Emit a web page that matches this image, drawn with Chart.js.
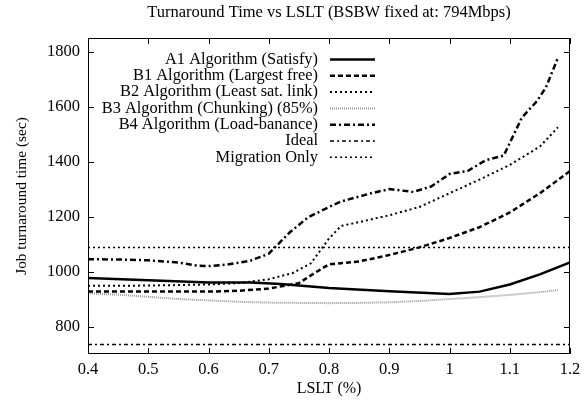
<!DOCTYPE html>
<html>
<head>
<meta charset="utf-8">
<script src="https://cdn.jsdelivr.net/npm/chart.js@4"></script>
<style>
html, body { margin: 0; padding: 0; background: #fff; }
#wrap { width: 587px; height: 408px; }
</style>
</head>
<body>
<div id="wrap"><canvas id="myChart"></canvas></div>
<script>
// tick values
const xTicks = [0.4, 0.5, 0.6, 0.7, 0.8, 0.9, 1, 1.1, 1.2];
const yTicks = [800, 1000, 1200, 1400, 1600, 1800];

// A1 Algorithm (Satisfy)
const a1X = [0.4, 0.5, 0.6, 0.67, 0.72, 0.8, 0.9, 1.0, 1.05, 1.1, 1.15, 1.2];
const a1Y = [977, 968, 960, 960, 955, 940, 928, 918, 927, 953, 990, 1033];

// B1 Algorithm (Largest free)
const b1X = [0.4, 0.5, 0.6, 0.65, 0.7, 0.75, 0.78, 0.8, 0.85, 0.9, 0.95, 1.0, 1.05, 1.1, 1.15, 1.2];
const b1Y = [927, 927, 927, 930, 938, 958, 1000, 1026, 1037, 1060, 1088, 1122, 1162, 1215, 1285, 1366];

// B2 Algorithm (Least sat. link)
const b2X = [0.4, 0.5, 0.6, 0.65, 0.7, 0.74, 0.77, 0.8, 0.82, 0.85, 0.9, 0.95, 1.0, 1.05, 1.1, 1.15, 1.18];
const b2Y = [948, 949, 953, 958, 972, 995, 1030, 1120, 1166, 1180, 1205, 1235, 1285, 1335, 1388, 1455, 1525];

// B3 Algorithm (Chunking) (85%)
const b3X = [0.4, 0.45, 0.5, 0.55, 0.6, 0.65, 0.7, 0.75, 0.8, 0.85, 0.9, 0.95, 1.0, 1.05, 1.1, 1.15, 1.18];
const b3Y = [921, 916, 908, 900, 895, 890, 887, 886, 885, 886, 888, 893, 900, 907, 915, 925, 933];

// B4 Algorithm (Load-banance)
const b4X = [0.4, 0.45, 0.5, 0.55, 0.58, 0.6, 0.63, 0.67, 0.7, 0.735, 0.765, 0.8, 0.82, 0.87, 0.9, 0.94, 0.97, 1.0, 1.03, 1.06, 1.09, 1.12, 1.145, 1.16, 1.18];
const b4Y = [1045, 1044, 1041, 1033, 1022, 1020, 1025, 1040, 1065, 1143, 1197, 1235, 1255, 1285, 1300, 1290, 1310, 1355, 1366, 1405, 1422, 1560, 1620, 1670, 1778];

// Ideal and Migration Only (flat)
const flatX = [0.4, 1.2];
const idealY = [735, 735];
const migrationY = [1088, 1088];

const seriesNames = [
    'A1 Algorithm (Satisfy)',
    'B1 Algorithm (Largest free)',
    'B2 Algorithm (Least sat. link)',
    'B3 Algorithm (Chunking) (85%)',
    'B4 Algorithm (Load-banance)',
    'Ideal',
    'Migration Only'
];

const serif = "'Liberation Serif', 'DejaVu Serif', serif";

function pts(xs, ys) {
    return xs.map((x, i) => ({ x: x, y: ys[i] }));
}

const lineStyles = [
    { color: '#000', width: 2.5, dash: [] },
    { color: '#000', width: 2.5, dash: [5, 3] },
    { color: '#000', width: 2, dash: [2, 3] },
    { color: '#999', width: 2, dash: [1, 1] },
    { color: '#000', width: 2.5, dash: [6, 3, 2, 3] },
    { color: '#000', width: 1.5, dash: [4, 3, 2, 3] },
    { color: '#000', width: 1.5, dash: [2, 3] }
];

const seriesData = [
    pts(a1X, a1Y),
    pts(b1X, b1Y),
    pts(b2X, b2Y),
    pts(b3X, b3Y),
    pts(b4X, b4Y),
    pts(flatX, idealY),
    pts(flatX, migrationY)
];

const datasets = seriesNames.map((name, i) => ({
    label: name,
    data: seriesData[i],
    borderColor: lineStyles[i].color,
    borderWidth: lineStyles[i].width,
    borderDash: lineStyles[i].dash,
    borderCapStyle: 'butt',
    pointRadius: 0,
    tension: 0,
    fill: false
}));

// gnuplot-like frame, inside ticks and legend
const framePlugin = {
    id: 'frame',
    afterDraw(chart) {
        const ctx = chart.ctx;
        const a = chart.chartArea;
        const xs = chart.scales.x;
        const ys = chart.scales.y;
        ctx.save();
        ctx.strokeStyle = '#000';
        ctx.lineWidth = 1;
        ctx.setLineDash([]);
        ctx.strokeRect(a.left + 0.5, a.top + 0.5, a.right - a.left - 1, a.bottom - a.top - 1);
        ctx.beginPath();
        yTicks.forEach(v => {
            const y = Math.round(ys.getPixelForValue(v)) + 0.5;
            ctx.moveTo(a.left, y); ctx.lineTo(a.left + 6, y);
            ctx.moveTo(a.right, y); ctx.lineTo(a.right - 6, y);
        });
        xTicks.forEach(v => {
            const x = Math.round(xs.getPixelForValue(v)) + 0.5;
            ctx.moveTo(x, a.bottom); ctx.lineTo(x, a.bottom - 6);
            ctx.moveTo(x, a.top); ctx.lineTo(x, a.top + 6);
        });
        ctx.stroke();

        // legend: text right aligned, sample line on the right
        ctx.font = '16.4px ' + serif;
        ctx.fillStyle = '#000';
        ctx.textAlign = 'right';
        ctx.textBaseline = 'middle';
        seriesNames.forEach((name, i) => {
            const y = 59.5 + i * 16.3;
            ctx.fillText(name, 318, y);
            const st = lineStyles[i];
            ctx.beginPath();
            ctx.strokeStyle = st.color;
            ctx.lineWidth = st.width;
            ctx.setLineDash(st.dash);
            ctx.moveTo(330, y);
            ctx.lineTo(375, y);
            ctx.stroke();
        });
        ctx.restore();
    }
};

const config = {
    type: 'line',
    data: { datasets: datasets },
    options: {
        responsive: true,
        maintainAspectRatio: false,
        animation: false,
        layout: { padding: { right: 17 } },
        scales: {
            x: {
                type: 'linear',
                min: 0.4,
                max: 1.2,
                afterBuildTicks: s => { s.ticks = xTicks.map(v => ({ value: v })); },
                afterFit: s => { s.height = 54; },
                grid: { display: false, drawTicks: false },
                border: { display: false },
                ticks: {
                    padding: 6,
                    maxRotation: 0,
                    color: '#000',
                    font: { family: serif, size: 16.5 },
                    callback: v => String(v)
                },
                title: {
                    display: true,
                    text: 'LSLT (%)',
                    color: '#000',
                    font: { family: serif, size: 16 },
                    padding: { top: 0, bottom: 9.4 }
                }
            },
            y: {
                min: 700,
                max: 1850,
                afterBuildTicks: s => { s.ticks = yTicks.map(v => ({ value: v })); },
                afterFit: s => { s.width = 88; },
                grid: { display: false, drawTicks: false },
                border: { display: false },
                ticks: {
                    padding: 8,
                    color: '#000',
                    font: { family: serif, size: 16.5 },
                    callback: v => String(v)
                },
                title: {
                    display: true,
                    text: 'Job turnaround time (sec)',
                    color: '#000',
                    font: { family: serif, size: 15.4 },
                    padding: { top: 12.4, bottom: 0 }
                }
            }
        },
        plugins: {
            legend: { display: false },
            tooltip: { enabled: false },
            title: {
                display: true,
                fullSize: false,
                text: 'Turnaround Time vs LSLT (BSBW fixed at: 794Mbps)',
                color: '#000',
                font: { family: serif, size: 16.5, weight: 'normal' },
                padding: { top: 3, bottom: 15.2 }
            }
        }
    },
    plugins: [framePlugin]
};

let myChart = new Chart(document.getElementById('myChart'), config);
</script>
</body>
</html>
